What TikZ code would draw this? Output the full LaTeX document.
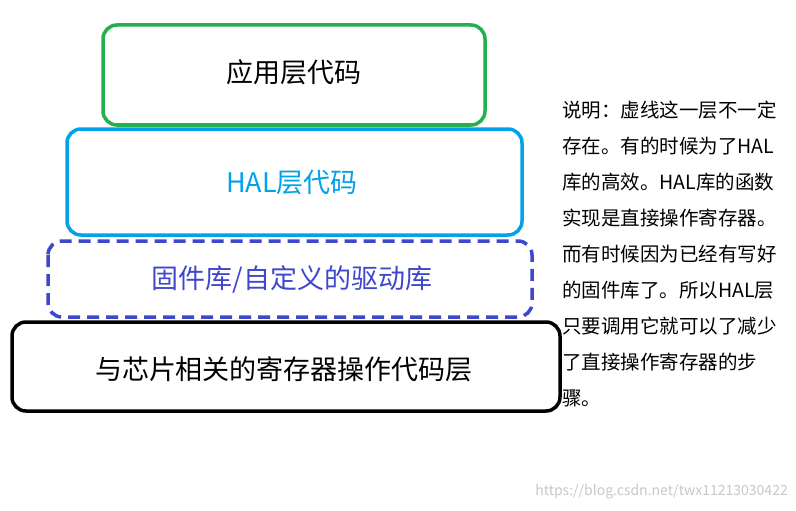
\documentclass[tikz,border=0pt]{standalone}
\usepackage{fontspec}
\setmainfont{Noto Sans CJK SC}
\definecolor{gr}{RGB}{34,177,76}
\definecolor{bl}{RGB}{0,162,232}
\definecolor{ind}{RGB}{63,72,204}
\definecolor{wm}{RGB}{200,200,200}
\tikzset{layer/.style={draw,line width=3.5pt,rounded corners=14pt},
 lbl/.style={font=\fontsize{27}{30}\selectfont},
 note/.style={font=\fontsize{19.5}{22}\selectfont,anchor=west,inner sep=0}}
\begin{document}
\begin{tikzpicture}[x=1pt,y=-1pt]
\useasboundingbox[fill=white] (0,0) rectangle (796,511);
\draw[layer,gr] (103,25) rectangle (485,125);
\node[lbl] (a) at (294,72) {应用层代码};
\draw[layer,bl] (67,129) rectangle (522,235);
\node[lbl,text=bl] (b) at (292,182) {HAL层代码};
\draw[layer,ind,dashed,dash pattern=on 12pt off 7pt] (48,241) rectangle (532,317);
\node[lbl,text=ind] (c) at (292,279) {固件库/自定义的驱动库};
\draw[layer,black] (12,322) rectangle (560,411);
\node[lbl] (d) at (284,369) {与芯片相关的寄存器操作代码层};
\foreach \t [count=\i] in {说明：虚线这一层不一定,存在。有的时候为了HAL,库的高效。HAL库的函数,实现是直接操作寄存器。,而有时候因为已经有写好,的固件库了。所以HAL层,只要调用它就可以了减少,了直接操作寄存器的步,骤。}
  \node[note] (n\i) at (562,74+36*\i) {\t};
\node[text=wm,font=\fontsize{14}{16}\selectfont,anchor=east,inner sep=0] (w) at (788,492) {https://blog.csdn.net/twx11213030422};
\end{tikzpicture}
\end{document}
